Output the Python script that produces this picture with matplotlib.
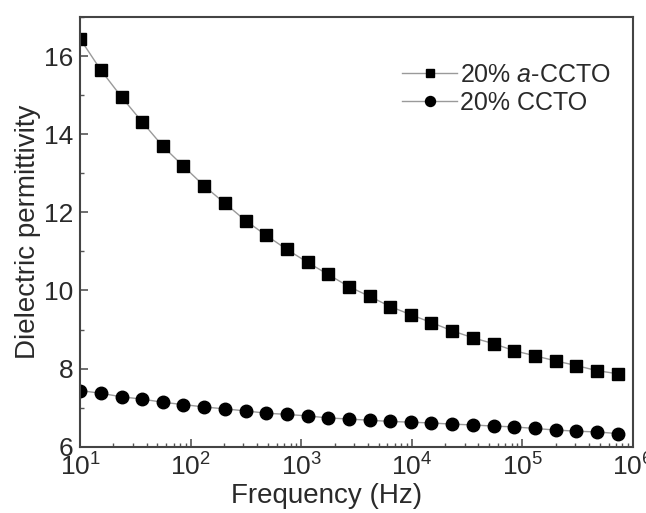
import matplotlib
matplotlib.use("Agg")
import matplotlib.pyplot as plt
from matplotlib.ticker import LogLocator, MultipleLocator, NullFormatter

plt.rcParams["font.family"] = ["Liberation Sans", "DejaVu Sans"]
plt.rcParams["mathtext.fontset"] = "custom"
plt.rcParams["mathtext.rm"] = "Liberation Sans"
plt.rcParams["mathtext.it"] = "Liberation Sans:italic"

# frecuencias (Hz)
freq = [10, 15.4, 23.7, 36.5, 56, 86, 133, 204, 313, 482, 741, 1140, 1750,
        2690, 4140, 6370, 9790, 15000, 23100, 35600, 54700, 84100, 129000,
        199000, 306000, 471000, 724000]

eps_a_ccto = [16.44, 15.64, 14.95, 14.31, 13.69, 13.18, 12.67, 12.23, 11.79,
              11.41, 11.05, 10.72, 10.41, 10.10, 9.85, 9.59, 9.38, 9.18, 8.97,
              8.79, 8.64, 8.46, 8.33, 8.20, 8.08, 7.95, 7.87]

eps_ccto = [7.44, 7.37, 7.28, 7.22, 7.14, 7.08, 7.02, 6.97, 6.92, 6.86, 6.83,
            6.79, 6.74, 6.71, 6.68, 6.65, 6.63, 6.61, 6.58, 6.56, 6.53, 6.51,
            6.47, 6.43, 6.40, 6.38, 6.34]

fig = plt.figure(figsize=(6.46, 5.13), dpi=100)
ax = fig.add_axes([0.124, 0.129, 0.856, 0.838])

ax.plot(freq, eps_a_ccto, color="#9a9a9a", lw=1.0, marker="s", ms=8,
        mfc="black", mec="black", label=r"20% $\it{a}$-CCTO")
ax.plot(freq, eps_ccto, color="#9a9a9a", lw=1.0, marker="o", ms=9,
        mfc="black", mec="black", label="20% CCTO")

ax.set_xscale("log")
ax.set_xlim(10, 1e6)
ax.set_ylim(6, 17)
ax.yaxis.set_major_locator(MultipleLocator(2))
ax.yaxis.set_minor_locator(MultipleLocator(1))
ax.xaxis.set_major_locator(LogLocator(base=10, numticks=10))
ax.xaxis.set_minor_locator(LogLocator(base=10, subs=range(2, 10), numticks=20))
ax.xaxis.set_minor_formatter(NullFormatter())

txt = "#2a2a2a"
ax.tick_params(which="both", direction="in", colors="#555555", labelcolor=txt,
               labelsize=19, top=False, right=False)
ax.tick_params(which="major", length=6, width=1.2, pad=5)
ax.tick_params(which="minor", length=3, width=1.0)
for s in ax.spines.values():
    s.set_color("#444444")
    s.set_linewidth(1.5)

ax.set_xlabel("Frequency (Hz)", fontsize=20, color=txt, labelpad=-1)
ax.xaxis.set_label_coords(0.445, -0.085)
ax.set_ylabel("Dielectric permittivity", fontsize=20, color=txt, labelpad=2)

leg = ax.legend(loc="upper right", bbox_to_anchor=(1.0, 0.945), frameon=False,
                fontsize=18, handlelength=2.2, handletextpad=0.1,
                labelspacing=0.15, markerscale=0.8, labelcolor=txt)

fig.savefig("out.png", dpi=100)
